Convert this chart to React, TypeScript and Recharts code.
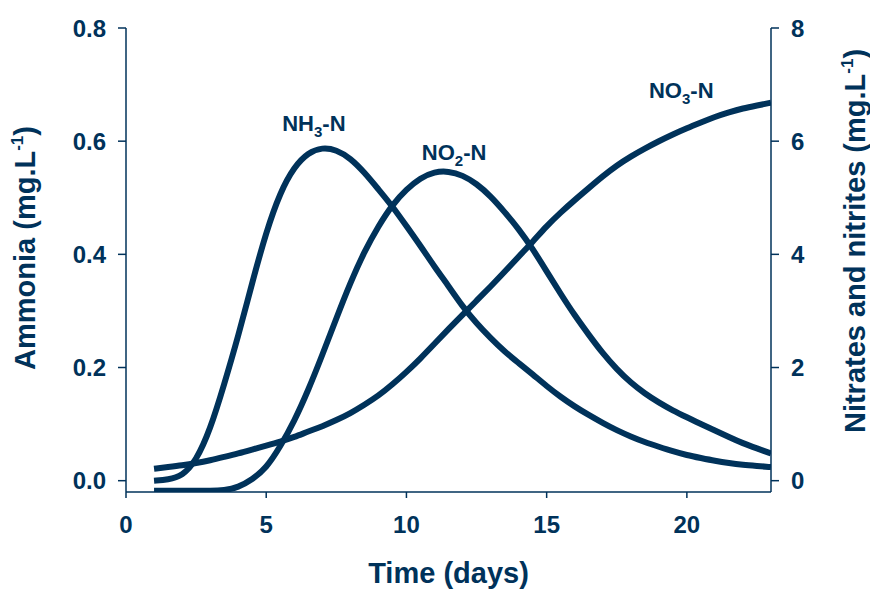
import { Label, Line, LineChart, ReferenceDot, XAxis, YAxis } from "recharts";

const NAVY = "#00325a";

const days = [
  1, 1.5, 2, 2.5, 3, 3.5, 4, 4.5, 5, 5.5, 6, 6.5, 7, 7.5, 8, 8.5, 9, 9.5, 10, 10.5, 11, 11.5,
  12, 12.5, 13, 13.5, 14, 14.5, 15, 15.5, 16, 16.5, 17, 17.5, 18, 18.5, 19, 19.5, 20, 20.5,
  21, 21.5, 22, 22.5, 23,
];

// ammonia, left axis (mg/L)
const nh3 = [
  0.0, 0.002, 0.008, 0.035, 0.09, 0.17, 0.255, 0.35, 0.44, 0.51, 0.555, 0.58, 0.589, 0.585,
  0.57, 0.545, 0.515, 0.485, 0.45, 0.415, 0.378, 0.344, 0.308, 0.278, 0.252, 0.228, 0.208,
  0.188, 0.167, 0.148, 0.131, 0.116, 0.102, 0.089, 0.078, 0.068, 0.06, 0.052, 0.045, 0.04,
  0.035, 0.031, 0.028, 0.026, 0.024,
];

// nitrites, right axis (mg/L)
const no2 = [
  -0.18, -0.18, -0.18, -0.18, -0.18, -0.17, -0.12, 0.02, 0.22, 0.6, 1.05, 1.6, 2.22, 2.87,
  3.5, 4.05, 4.5, 4.88, 5.15, 5.35, 5.46, 5.47, 5.4, 5.25, 5.03, 4.75, 4.45, 4.1, 3.7, 3.3,
  2.92, 2.58, 2.25, 1.97, 1.73, 1.54, 1.38, 1.24, 1.12, 1.0, 0.89, 0.77, 0.66, 0.57, 0.48,
];

// nitrates, right axis (mg/L)
const no3 = [
  0.21, 0.24, 0.27, 0.31, 0.36, 0.42, 0.48, 0.55, 0.62, 0.69, 0.77, 0.87, 0.96, 1.07, 1.19,
  1.34, 1.5, 1.7, 1.92, 2.16, 2.42, 2.68, 2.93, 3.18, 3.43, 3.69, 3.96, 4.22, 4.5, 4.74, 4.96,
  5.17, 5.38, 5.57, 5.73, 5.87, 6.0, 6.12, 6.23, 6.33, 6.43, 6.51, 6.58, 6.63, 6.68,
];

const xTicks = [0, 5, 10, 15, 20];
const leftTicks = [0, 0.2, 0.4, 0.6, 0.8];
const rightTicks = [0, 2, 4, 6, 8];

const data = days.map((d, i) => ({ day: d, nh3: nh3[i], no2: no2[i], no3: no3[i] }));

const FONT = "'Liberation Sans', Arial, sans-serif";
const tickStyle = { fill: NAVY, fontSize: 24, fontWeight: 700, fontFamily: FONT };

const seriesLabel = (main: string, sub: string) => (props: any) => {
  const vb = props.viewBox || {};
  const cx = (vb.x || 0) + (vb.width || 0) / 2;
  const cy = (vb.y || 0) + (vb.height || 0) / 2;
  return (
    <text x={cx} y={cy} textAnchor="middle" fill={NAVY} fontSize={22} fontWeight={700} fontFamily={FONT}>
      {main}
      <tspan fontSize={15} dy={6}>{sub}</tspan>
      <tspan dy={-6}>-N</tspan>
    </text>
  );
};

const LeftTitle = (props: any) => {
  const vb = props.viewBox;
  const x = vb.x - 21;
  const y = vb.y + vb.height / 2 - 12;
  return (
    <text transform={`rotate(-90, ${x}, ${y})`} x={x} y={y} textAnchor="middle" fill={NAVY}
      fontSize={29} fontWeight={700} fontFamily={FONT}>
      Ammonia (mg.L<tspan fontSize={17} dy={-12}>-1</tspan><tspan dy={12}>)</tspan>
    </text>
  );
};

const RightTitle = (props: any) => {
  const vb = props.viewBox;
  const x = vb.x + 94;
  const y = vb.y + vb.height / 2 - 19;
  return (
    <text transform={`rotate(-90, ${x}, ${y})`} x={x} y={y} textAnchor="middle" fill={NAVY}
      fontSize={29} fontWeight={700} fontFamily={FONT}>
      Nitrates and nitrites (mg.L<tspan fontSize={17} dy={-12}>-1</tspan><tspan dy={12}>)</tspan>
    </text>
  );
};

const BottomTitle = (props: any) => {
  const vb = props.viewBox;
  return (
    <text x={vb.x + vb.width / 2} y={vb.y + 91} textAnchor="middle" fill={NAVY}
      fontSize={29} fontWeight={700} fontFamily={FONT}>
      Time (days)
    </text>
  );
};

export default function App() {
  return (
    <div style={{ position: "absolute", left: 0, top: 0, background: "#fff" }}>
      <LineChart width={870} height={590} data={data}
        margin={{ top: 28, right: 29, left: 56, bottom: 38 }}>
        <XAxis dataKey="day" type="number" domain={[0, 23]} ticks={xTicks} allowDataOverflow
          height={60} tickSize={6} tickMargin={18} tick={tickStyle}
          axisLine={{ stroke: NAVY, strokeWidth: 1.5 }} tickLine={{ stroke: NAVY, strokeWidth: 1.5 }}>
          <Label content={BottomTitle} />
        </XAxis>
        <YAxis yAxisId="left" orientation="left" domain={[-0.02, 0.8]} ticks={leftTicks}
          allowDataOverflow width={70} tickSize={8} tickMargin={12} tick={tickStyle}
          tickFormatter={(v: number) => v.toFixed(1)}
          axisLine={{ stroke: NAVY, strokeWidth: 1.5 }} tickLine={{ stroke: NAVY, strokeWidth: 1.5 }}>
          <Label content={LeftTitle} />
        </YAxis>
        <YAxis yAxisId="right" orientation="right" domain={[-0.2, 8]} ticks={rightTicks}
          allowDataOverflow width={70} tickSize={8} tickMargin={12} tick={tickStyle}
          axisLine={{ stroke: NAVY, strokeWidth: 1.5 }} tickLine={{ stroke: NAVY, strokeWidth: 1.5 }}>
          <Label content={RightTitle} />
        </YAxis>
        <Line yAxisId="left" type="basis" dataKey="nh3" stroke={NAVY} strokeWidth={6}
          dot={false} isAnimationActive={false} />
        <Line yAxisId="right" type="basis" dataKey="no2" stroke={NAVY} strokeWidth={6}
          dot={false} isAnimationActive={false} />
        <Line yAxisId="right" type="basis" dataKey="no3" stroke={NAVY} strokeWidth={6}
          dot={false} isAnimationActive={false} />
        <ReferenceDot yAxisId="left" x={6.7} y={0.618} r={1} fill="none" stroke="none"
          label={{ content: seriesLabel("NH", "3") }} />
        <ReferenceDot yAxisId="right" x={11.7} y={5.66} r={1} fill="none" stroke="none"
          label={{ content: seriesLabel("NO", "2") }} />
        <ReferenceDot yAxisId="right" x={19.8} y={6.77} r={1} fill="none" stroke="none"
          label={{ content: seriesLabel("NO", "3") }} />
      </LineChart>
    </div>
  );
}
